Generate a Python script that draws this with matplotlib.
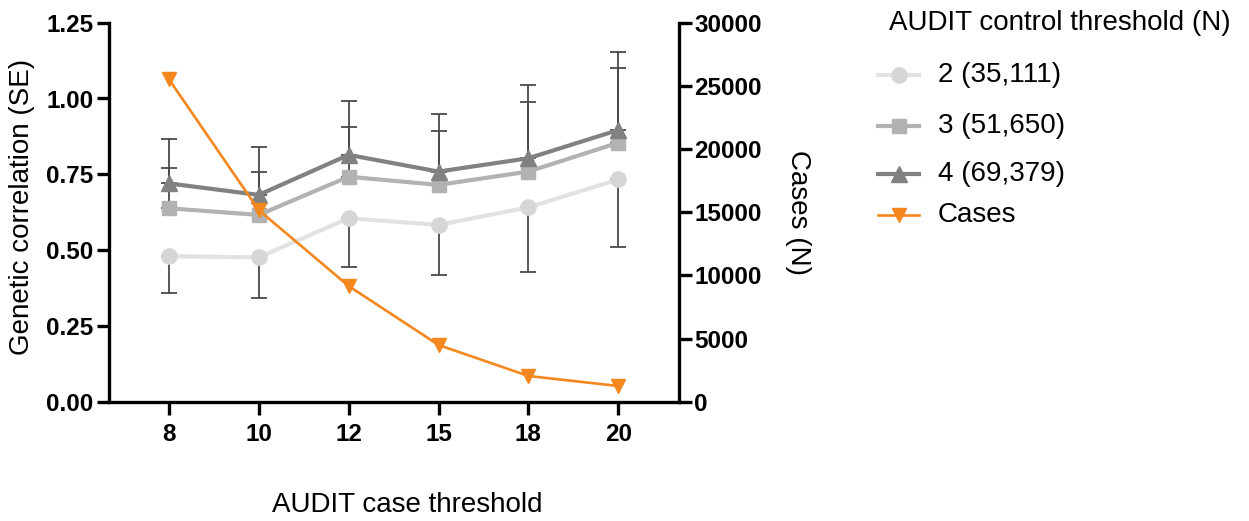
import matplotlib
matplotlib.use("Agg")
import matplotlib.pyplot as plt
from matplotlib.lines import Line2D

plt.rcParams['font.family'] = ['Liberation Sans', 'DejaVu Sans']

# ---- data ----
case_thresholds = ["8", "10", "12", "15", "18", "20"]
rg_ctrl2 = [0.480, 0.476, 0.605, 0.583, 0.641, 0.733]
se_ctrl2 = [0.122, 0.135, 0.160, 0.165, 0.214, 0.222]
rg_ctrl3 = [0.638, 0.616, 0.742, 0.715, 0.759, 0.854]
se_ctrl3 = [0.134, 0.143, 0.165, 0.179, 0.228, 0.248]
rg_ctrl4 = [0.720, 0.682, 0.814, 0.759, 0.803, 0.896]
se_ctrl4 = [0.145, 0.157, 0.179, 0.190, 0.242, 0.258]
cases_n = [25540, 15170, 9160, 4490, 2035, 1243]
legend_labels = ["2 (35,111)", "3 (51,650)", "4 (69,379)", "Cases"]
legend_title = "AUDIT control threshold (N)"

W, H = 1249, 521
fig = plt.figure(figsize=(W / 100, H / 100), dpi=100)
L, R, T, B = 109, 679, 22.7, 401.7
ax = fig.add_axes([L / W, 1 - B / H, (R - L) / W, (B - T) / H])
ax2 = ax.twinx()

x = list(range(len(case_thresholds)))
c2, c3, c4 = "#d6d6d6", "#b2b2b2", "#818181"
c2l = "#e2e2e2"
orange = "#f5871f"
errc = "#4a4a4a"

# error bars (one-sided, drawn beneath the lines)
ax.errorbar(x, rg_ctrl2, yerr=[se_ctrl2, [0] * 6], fmt='none', ecolor=errc,
            elinewidth=1.3, capsize=5.5, capthick=1.3, zorder=1)
ax.errorbar(x, rg_ctrl3, yerr=[[0] * 6, se_ctrl3], fmt='none', ecolor=errc,
            elinewidth=1.3, capsize=5.5, capthick=1.3, zorder=1)
ax.errorbar(x, rg_ctrl4, yerr=[[0] * 6, se_ctrl4], fmt='none', ecolor=errc,
            elinewidth=1.3, capsize=5.5, capthick=1.3, zorder=1)

styles = [
    dict(color=c2l, lw=3, marker='o', ms=11, mfc=c2, mec=c2),
    dict(color=c3, lw=3, marker='s', ms=10.5, mfc=c3, mec=c3),
    dict(color=c4, lw=3, marker='^', ms=11.5, mfc=c4, mec=c4),
    dict(color=orange, lw=1.9, marker='v', ms=9.5, mfc=orange, mec=orange),
]

ax.plot(x, rg_ctrl2, zorder=2, **styles[0])
ax.plot(x, rg_ctrl3, zorder=3, **styles[1])
ax.plot(x, rg_ctrl4, zorder=4, **styles[2])
ax2.plot(x, cases_n, **styles[3])

ax.set_xlim(-0.665, 5.675)
ax.set_ylim(0, 1.25)
ax2.set_ylim(0, 30000)
ax.set_xticks(x)
ax.set_xticklabels(case_thresholds)
ax.set_yticks([0, 0.25, 0.5, 0.75, 1.0, 1.25])
ax.set_yticklabels(["0.00", "0.25", "0.50", "0.75", "1.00", "1.25"])
ax2.set_yticks([0, 5000, 10000, 15000, 20000, 25000, 30000])
ax2.set_yticklabels(["0", "5000", "10000", "15000", "20000", "25000", "30000"])

for a in (ax, ax2):
    a.spines['top'].set_visible(False)
    for s in a.spines.values():
        s.set_linewidth(2.4)
ax.spines['right'].set_visible(False)
ax2.spines['left'].set_visible(False)
ax2.spines['bottom'].set_visible(False)

ax.tick_params(axis='both', direction='out', length=9, width=2.4, labelsize=17.5, pad=2)
ax.tick_params(axis='x', pad=6)
ax2.tick_params(axis='y', direction='out', length=9, width=2.4, labelsize=17.5, pad=2)
for lab in ax.get_xticklabels() + ax.get_yticklabels() + ax2.get_yticklabels():
    lab.set_fontweight('bold')

fig.text(407 / W, 1 - 505 / H, "AUDIT case threshold", fontsize=20, ha='center', va='center')
fig.text(22 / W, 1 - 207 / H, "Genetic correlation (SE)", fontsize=20, ha='center',
         va='center', rotation=90)
fig.text(798 / W, 1 - 213 / H, "Cases (N)", fontsize=20, ha='center', va='center', rotation=270)

# legend drawn entry by entry
fig.text(889 / W, 1 - 23 / H, legend_title, fontsize=20, ha='left', va='center')
row_y = [75, 126, 174, 215]
for lbl, st, ry in zip(legend_labels, styles, row_y):
    yf = 1 - ry / H
    fig.add_artist(Line2D([878 / W, 898.5 / W, 919 / W], [yf, yf, yf],
                          transform=fig.transFigure, markevery=[1], **st))
    fig.text(938 / W, yf, lbl, fontsize=20, ha='left', va='center')

fig.savefig("out.png", dpi=100)
